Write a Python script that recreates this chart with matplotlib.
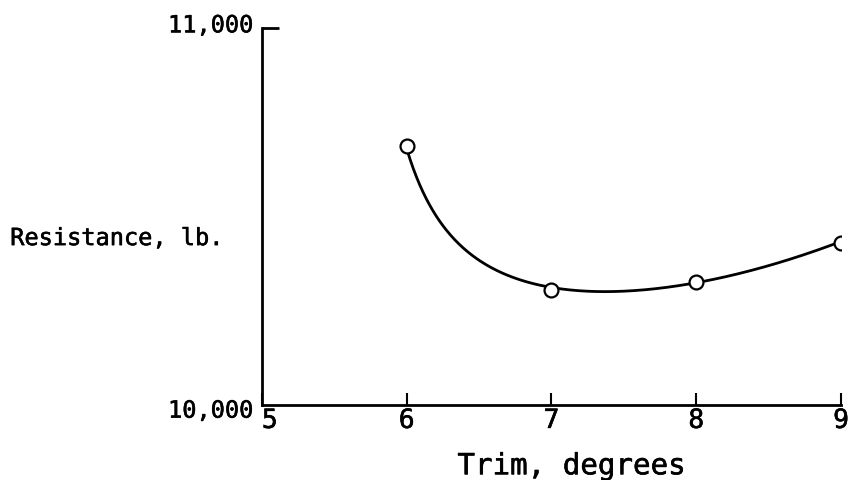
import numpy as np
import matplotlib.pyplot as plt
import matplotlib.patheffects as pe
from matplotlib.transforms import ScaledTranslation

trim = [6, 7, 8, 9]
resistencia = [10687, 10304, 10326, 10430]

# trazo de la curva dibujada a mano
curva_x = [6.0, 6.06, 6.2, 6.38, 6.5, 6.78, 7.0, 7.36, 8.0, 8.44, 9.0]
curva_y = [10687, 10601, 10504, 10424, 10389, 10336, 10304, 10296, 10326, 10370, 10430]

xticks = [5, 6, 7, 8, 9]
yticks = [10000, 11000]
ytick_labels = ['10,000', '11,000']

plt.rcParams['font.family'] = ['DejaVu Sans Mono']


# ajuste suave por mínimos cuadrados: a + b*x + c*x^2 + d/(x - x0)
def ajuste_suave(x, y, xs):
    x = np.asarray(x, float)
    y = np.asarray(y, float)
    mejor = None
    for x0 in np.linspace(4.5, 5.95, 146):
        base = np.column_stack([np.ones_like(x), x, x**2, 1 / (x - x0)])
        coef, res, *_ = np.linalg.lstsq(base, y, rcond=None)
        err = np.sum((base @ coef - y) ** 2)
        if mejor is None or err < mejor[0]:
            mejor = (err, x0, coef)
    _, x0, coef = mejor
    return coef[0] + coef[1] * xs + coef[2] * xs**2 + coef[3] / (xs - x0)


xs = np.linspace(curva_x[0], curva_x[-1], 400)
ys = ajuste_suave(curva_x, curva_y, xs)

fig = plt.figure(figsize=(8.53, 4.8), dpi=100)
ax = fig.add_axes([0.307, 0.156, 0.679, 0.786])

ax.plot(xs, ys, color='black', lw=2)
ax.plot(trim, resistencia, 'o', ms=10, mfc='white', mec='black', mew=1.6)

ax.set_xlim(5, 9)
ax.set_ylim(10000, 11000)
ax.spines['top'].set_visible(False)
ax.spines['right'].set_visible(False)
ax.spines['left'].set_linewidth(2)
ax.spines['bottom'].set_linewidth(2)

ax.set_xticks(xticks)
ax.set_xticklabels([str(v) for v in xticks])
ax.set_yticks(yticks)
ax.set_yticklabels(ytick_labels)
ax.tick_params(axis='x', direction='in', length=9, width=1.5, labelsize=19, pad=2)
ax.tick_params(axis='y', direction='in', length=12, width=2, labelsize=17, pad=6)
ax.yaxis.get_major_ticks()[0].tick1line.set_visible(False)
ax.get_xticklabels()[0].set_horizontalalignment('left')

# pequeños desplazamientos de las etiquetas del eje y
ylabs = ax.get_yticklabels()
ylabs[0].set_transform(ylabs[0].get_transform() + ScaledTranslation(0, -3 / 100, fig.dpi_scale_trans))
ylabs[1].set_transform(ylabs[1].get_transform() + ScaledTranslation(0, 5 / 100, fig.dpi_scale_trans))

# trazo algo más grueso, como el texto mecanografiado
grueso = [pe.withStroke(linewidth=0.4, foreground='black')]
for lab in ax.get_xticklabels() + ax.get_yticklabels():
    lab.set_path_effects(grueso)

ax.set_xlabel('Trim, degrees', fontsize=21, path_effects=grueso)
ax.xaxis.set_label_coords(0.534, -0.125)
fig.text(0.012, 0.504, 'Resistance, lb.', fontsize=17, va='center', ha='left', path_effects=grueso)

fig.savefig('out.png', dpi=100, facecolor='white')
